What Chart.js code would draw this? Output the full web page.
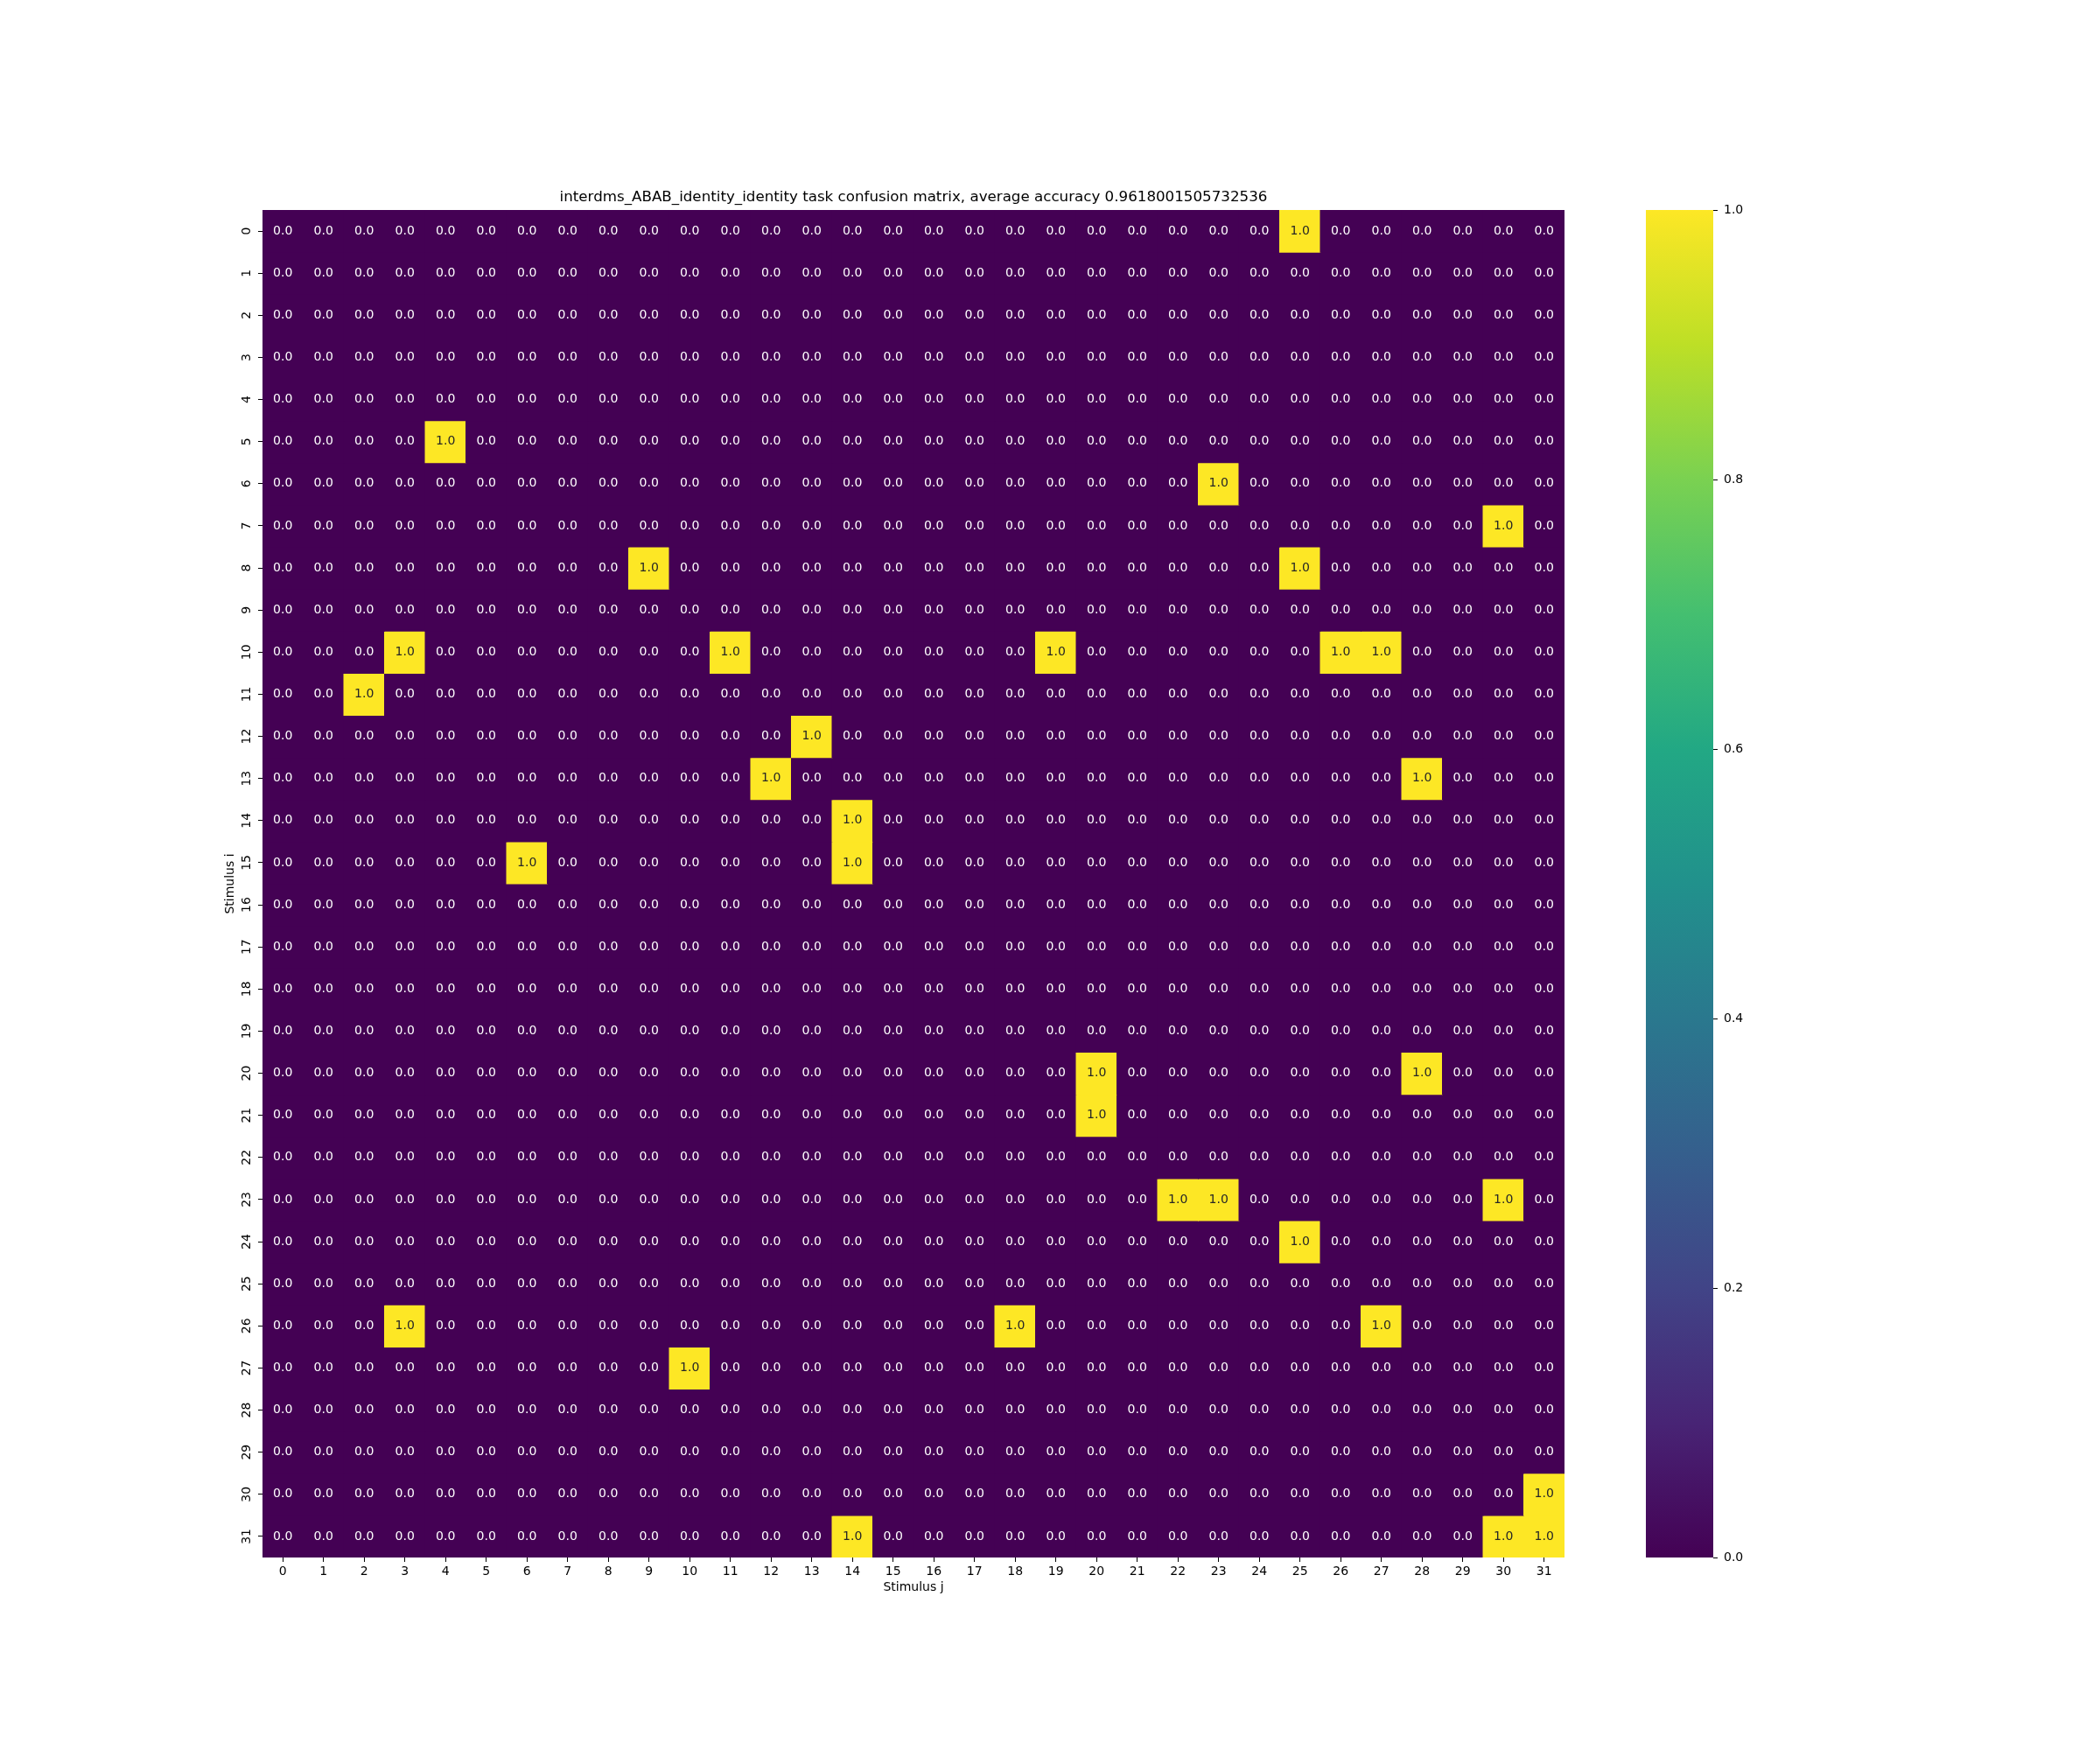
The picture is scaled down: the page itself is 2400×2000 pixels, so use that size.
<!DOCTYPE html>
<html>
<head>
<meta charset="utf-8">
<title>confusion matrix</title>
<script src="https://cdn.jsdelivr.net/npm/chart.js@4.4.1/dist/chart.umd.min.js"></script>
<style>
    html, body { margin: 0; padding: 0; background: #fff; }
    #wrap { width: 2400px; height: 2000px; }
</style>
</head>
<body>
<div id="wrap"><canvas id="heatmap" width="2400" height="2000"></canvas></div>
<script>
// 자극 번호 (행 i, 열 j)
const stimulusI = Array.from({ length: 32 }, (_, k) => k);
const stimulusJ = Array.from({ length: 32 }, (_, k) => k);

const chartTitle = 'interdms_ABAB_identity_identity task confusion matrix, average accuracy 0.9618001505732536';

// 그림에서 읽은 값 (0.0 / 1.0), 한 줄이 한 행
const confusion = [
    [0,0,0,0,0,0,0,0, 0,0,0,0,0,0,0,0, 0,0,0,0,0,0,0,0, 0,1,0,0,0,0,0,0],
    [0,0,0,0,0,0,0,0, 0,0,0,0,0,0,0,0, 0,0,0,0,0,0,0,0, 0,0,0,0,0,0,0,0],
    [0,0,0,0,0,0,0,0, 0,0,0,0,0,0,0,0, 0,0,0,0,0,0,0,0, 0,0,0,0,0,0,0,0],
    [0,0,0,0,0,0,0,0, 0,0,0,0,0,0,0,0, 0,0,0,0,0,0,0,0, 0,0,0,0,0,0,0,0],
    [0,0,0,0,0,0,0,0, 0,0,0,0,0,0,0,0, 0,0,0,0,0,0,0,0, 0,0,0,0,0,0,0,0],
    [0,0,0,0,1,0,0,0, 0,0,0,0,0,0,0,0, 0,0,0,0,0,0,0,0, 0,0,0,0,0,0,0,0],
    [0,0,0,0,0,0,0,0, 0,0,0,0,0,0,0,0, 0,0,0,0,0,0,0,1, 0,0,0,0,0,0,0,0],
    [0,0,0,0,0,0,0,0, 0,0,0,0,0,0,0,0, 0,0,0,0,0,0,0,0, 0,0,0,0,0,0,1,0],
    [0,0,0,0,0,0,0,0, 0,1,0,0,0,0,0,0, 0,0,0,0,0,0,0,0, 0,1,0,0,0,0,0,0],
    [0,0,0,0,0,0,0,0, 0,0,0,0,0,0,0,0, 0,0,0,0,0,0,0,0, 0,0,0,0,0,0,0,0],
    [0,0,0,1,0,0,0,0, 0,0,0,1,0,0,0,0, 0,0,0,1,0,0,0,0, 0,0,1,1,0,0,0,0],
    [0,0,1,0,0,0,0,0, 0,0,0,0,0,0,0,0, 0,0,0,0,0,0,0,0, 0,0,0,0,0,0,0,0],
    [0,0,0,0,0,0,0,0, 0,0,0,0,0,1,0,0, 0,0,0,0,0,0,0,0, 0,0,0,0,0,0,0,0],
    [0,0,0,0,0,0,0,0, 0,0,0,0,1,0,0,0, 0,0,0,0,0,0,0,0, 0,0,0,0,1,0,0,0],
    [0,0,0,0,0,0,0,0, 0,0,0,0,0,0,1,0, 0,0,0,0,0,0,0,0, 0,0,0,0,0,0,0,0],
    [0,0,0,0,0,0,1,0, 0,0,0,0,0,0,1,0, 0,0,0,0,0,0,0,0, 0,0,0,0,0,0,0,0],
    [0,0,0,0,0,0,0,0, 0,0,0,0,0,0,0,0, 0,0,0,0,0,0,0,0, 0,0,0,0,0,0,0,0],
    [0,0,0,0,0,0,0,0, 0,0,0,0,0,0,0,0, 0,0,0,0,0,0,0,0, 0,0,0,0,0,0,0,0],
    [0,0,0,0,0,0,0,0, 0,0,0,0,0,0,0,0, 0,0,0,0,0,0,0,0, 0,0,0,0,0,0,0,0],
    [0,0,0,0,0,0,0,0, 0,0,0,0,0,0,0,0, 0,0,0,0,0,0,0,0, 0,0,0,0,0,0,0,0],
    [0,0,0,0,0,0,0,0, 0,0,0,0,0,0,0,0, 0,0,0,0,1,0,0,0, 0,0,0,0,1,0,0,0],
    [0,0,0,0,0,0,0,0, 0,0,0,0,0,0,0,0, 0,0,0,0,1,0,0,0, 0,0,0,0,0,0,0,0],
    [0,0,0,0,0,0,0,0, 0,0,0,0,0,0,0,0, 0,0,0,0,0,0,0,0, 0,0,0,0,0,0,0,0],
    [0,0,0,0,0,0,0,0, 0,0,0,0,0,0,0,0, 0,0,0,0,0,0,1,1, 0,0,0,0,0,0,1,0],
    [0,0,0,0,0,0,0,0, 0,0,0,0,0,0,0,0, 0,0,0,0,0,0,0,0, 0,1,0,0,0,0,0,0],
    [0,0,0,0,0,0,0,0, 0,0,0,0,0,0,0,0, 0,0,0,0,0,0,0,0, 0,0,0,0,0,0,0,0],
    [0,0,0,1,0,0,0,0, 0,0,0,0,0,0,0,0, 0,0,1,0,0,0,0,0, 0,0,0,1,0,0,0,0],
    [0,0,0,0,0,0,0,0, 0,0,1,0,0,0,0,0, 0,0,0,0,0,0,0,0, 0,0,0,0,0,0,0,0],
    [0,0,0,0,0,0,0,0, 0,0,0,0,0,0,0,0, 0,0,0,0,0,0,0,0, 0,0,0,0,0,0,0,0],
    [0,0,0,0,0,0,0,0, 0,0,0,0,0,0,0,0, 0,0,0,0,0,0,0,0, 0,0,0,0,0,0,0,0],
    [0,0,0,0,0,0,0,0, 0,0,0,0,0,0,0,0, 0,0,0,0,0,0,0,0, 0,0,0,0,0,0,0,1],
    [0,0,0,0,0,0,0,0, 0,0,0,0,0,0,1,0, 0,0,0,0,0,0,0,0, 0,0,0,0,0,0,1,1]
];

const colorbarTicks = [0, 0.2, 0.4, 0.6, 0.8, 1.0];

// viridis 색상표 (0 ~ 1)
const viridis = ['#440154', '#482475', '#414487', '#355f8d', '#2a788e', '#21918c',
                 '#22a884', '#44bf70', '#7ad151', '#bddf26', '#fde725'];

function hexToRgb(h) {
    return [parseInt(h.slice(1, 3), 16), parseInt(h.slice(3, 5), 16), parseInt(h.slice(5, 7), 16)];
}

function viridisColor(v) {
    const t = Math.max(0, Math.min(1, v)) * (viridis.length - 1);
    const i = Math.min(Math.floor(t), viridis.length - 2);
    const f = t - i;
    const a = hexToRgb(viridis[i]);
    const b = hexToRgb(viridis[i + 1]);
    const c = a.map((x, k) => Math.round(x + (b[k] - x) * f));
    return `rgb(${c[0]}, ${c[1]}, ${c[2]})`;
}

const FONT = 'DejaVu Sans';

// 셀 값 글자
const annotatePlugin = {
    id: 'annotate',
    afterDatasetsDraw(chart) {
        const ctx = chart.ctx;
        ctx.save();
        ctx.font = `14px "${FONT}"`;
        ctx.textAlign = 'center';
        ctx.textBaseline = 'middle';
        chart.data.datasets.forEach((ds, di) => {
            const meta = chart.getDatasetMeta(di);
            meta.data.forEach((bar, j) => {
                const v = ds.values[j];
                ctx.fillStyle = v > 0.5 ? '#262626' : '#ffffff';
                ctx.fillText(v.toFixed(1), bar.x, (bar.y + bar.base) / 2);
            });
        });
        ctx.restore();
    }
};

// 컬러바
const colorbarPlugin = {
    id: 'colorbar',
    afterDraw(chart) {
        const cb = chart.scales.cb;
        const ctx = chart.ctx;
        const x0 = chart.chartArea.right + 93;
        const w = 77;
        const yTop = cb.getPixelForValue(1);
        const yBot = cb.getPixelForValue(0);
        const grad = ctx.createLinearGradient(0, yBot, 0, yTop);
        viridis.forEach((c, k) => grad.addColorStop(k / (viridis.length - 1), c));
        ctx.save();
        ctx.fillStyle = grad;
        ctx.fillRect(x0, yTop, w, yBot - yTop);
        ctx.strokeStyle = '#000';
        ctx.lineWidth = 1;
        cb.ticks.forEach(t => {
            const y = Math.round(cb.getPixelForValue(t.value)) + 0.5;
            ctx.beginPath();
            ctx.moveTo(x0 + w, y);
            ctx.lineTo(x0 + w + 5, y);
            ctx.stroke();
        });
        ctx.restore();
    }
};

const datasets = stimulusI.map((i, r) => ({
    label: String(i),
    data: stimulusJ.map(() => [i - 0.5, i + 0.5]),
    values: confusion[r],
    backgroundColor: confusion[r].map(v => viridisColor(v)),
    borderWidth: 0,
    inflateAmount: 0.5,
    barPercentage: 1,
    categoryPercentage: 1,
    grouped: false
}));

const tickFont = { family: FONT, size: 14 };
const tickGrid = {
    display: true,
    drawOnChartArea: false,
    drawTicks: true,
    tickLength: 5,
    tickColor: '#000',
    tickWidth: 1,
    offset: false
};

new Chart(document.getElementById('heatmap'), {
    type: 'bar',
    data: { labels: stimulusJ.map(String), datasets },
    options: {
        responsive: false,
        animation: false,
        layout: { padding: { top: 0, left: 0, right: 312, bottom: 120 } },
        plugins: {
            legend: { display: false },
            tooltip: { enabled: false },
            title: {
                display: true,
                text: chartTitle,
                color: '#000',
                font: { family: FONT, size: 16.7, weight: 'normal', lineHeight: 1.2 },
                padding: { top: 216, bottom: 3.96 }
            }
        },
        scales: {
            x: {
                type: 'category',
                offset: true,
                grid: tickGrid,
                border: { display: false },
                ticks: { color: '#000', font: tickFont, padding: 3, autoSkip: false, maxRotation: 0 },
                title: {
                    display: true, text: 'Stimulus j', color: '#000',
                    font: { family: FONT, size: 14 }, padding: { top: 0, bottom: 57 }
                },
                afterFit: s => { s.height = 100; }
            },
            y: {
                type: 'linear',
                reverse: true,
                min: -0.5,
                max: 31.5,
                grid: tickGrid,
                border: { display: false },
                afterBuildTicks: s => { s.ticks = stimulusI.map(v => ({ value: v })); },
                ticks: {
                    color: '#000', font: tickFont, padding: 4,
                    minRotation: 90, maxRotation: 90, crossAlign: 'center',
                    callback: v => String(v)
                },
                title: {
                    display: true, text: 'Stimulus i', color: '#000',
                    font: { family: FONT, size: 14 }, padding: { top: 255, bottom: 0 }
                },
                afterFit: s => { s.width = 300; }
            },
            cb: {
                type: 'linear',
                position: 'right',
                min: 0,
                max: 1,
                grid: { display: false, drawTicks: false },
                border: { display: false },
                afterBuildTicks: s => { s.ticks = colorbarTicks.map(v => ({ value: v })); },
                ticks: { color: '#000', font: tickFont, padding: 182, callback: v => v.toFixed(1) },
                afterFit: s => { s.width = 300; }
            }
        }
    },
    plugins: [annotatePlugin, colorbarPlugin]
});
</script>
</body>
</html>
